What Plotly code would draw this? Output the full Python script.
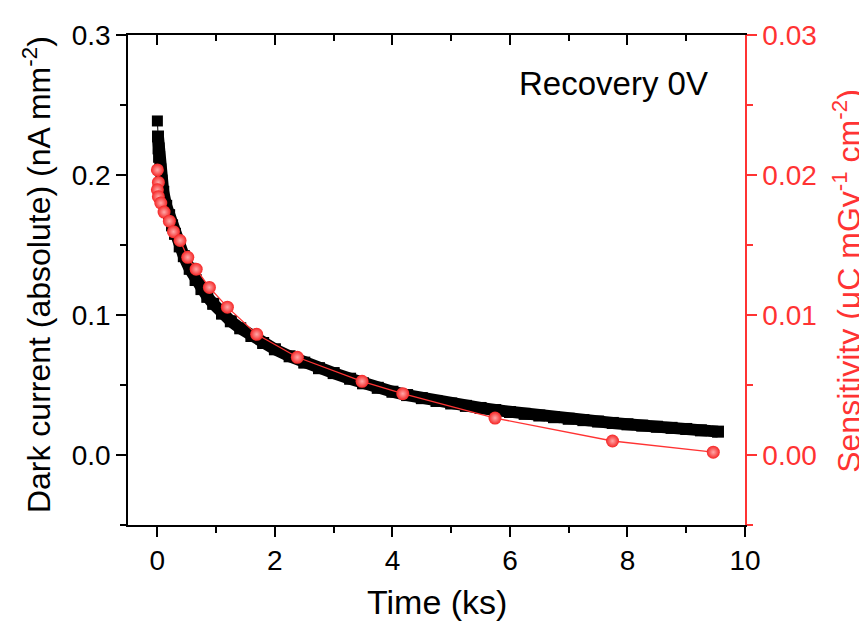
import plotly.graph_objects as go

# ---- data ----
t_dark = [0.0, 0.01, 0.02, 0.03, 0.05, 0.07, 0.10, 0.15, 0.20, 0.25, 0.30, 0.38, 0.45, 0.55,
          0.65, 0.75, 0.85, 0.95, 1.10, 1.25, 1.41, 1.60, 1.80, 2.00, 2.25, 2.50, 2.75, 3.00,
          3.28, 3.50, 3.75, 4.00, 4.25, 4.50, 4.75, 5.00, 5.25, 5.50, 5.75, 6.00, 6.25, 6.50,
          6.75, 7.00, 7.25, 7.50, 7.75, 8.00, 8.25, 8.50, 8.75, 9.00, 9.25, 9.54]
dark_current = [0.2386, 0.2275, 0.2190, 0.2130, 0.2040, 0.1960, 0.1880, 0.1780, 0.1713, 0.1640,
                0.1580, 0.1490, 0.1420, 0.1330, 0.1250, 0.1185, 0.1130, 0.1080, 0.1010, 0.0955,
                0.0905, 0.0850, 0.0800, 0.0755, 0.0705, 0.0660, 0.0620, 0.0585, 0.0545, 0.0512,
                0.0480, 0.0452, 0.0428, 0.0406, 0.0386, 0.0368, 0.0351, 0.0336, 0.0321, 0.0307,
                0.0294, 0.0282, 0.0270, 0.0259, 0.0249, 0.0239, 0.0229, 0.0219, 0.0210, 0.0202,
                0.0194, 0.0186, 0.0176, 0.0167]

t_sens = [0.0, 0.017, 0.0, 0.017, 0.058, 0.114, 0.204, 0.274, 0.386, 0.517, 0.660, 0.885,
          1.191, 1.690, 2.382, 3.483, 4.176, 5.746, 7.745, 9.46]
sensitivity = [0.02036, 0.01947, 0.01894, 0.01845, 0.01800, 0.01735, 0.01670, 0.01595, 0.01532,
               0.01412, 0.01327, 0.01197, 0.01056, 0.00862, 0.00698, 0.00526, 0.00438, 0.00264,
               0.00100, 0.00020]

x_ticks = [0, 2, 4, 6, 8, 10]
y_ticks = [0.0, 0.1, 0.2, 0.3]
y2_ticks = [0.00, 0.01, 0.02, 0.03]

RED = "#ff3333"
FONT = "Arial, Liberation Sans, sans-serif"

fig = go.Figure()

# thick band of dense square markers (dark current)
fig.add_trace(go.Scatter(
    x=t_dark[1:], y=dark_current[1:], mode="lines+markers",
    line=dict(color="black", width=12),
    marker=dict(symbol="square", size=12, color="black"),
    hoverinfo="skip", showlegend=False))
fig.add_trace(go.Scatter(
    x=t_dark, y=dark_current, mode="lines+markers",
    line=dict(color="black", width=1),
    marker=dict(symbol="square", size=11, color="black"),
    showlegend=False))

# sensitivity (right axis)
fig.add_trace(go.Scatter(
    x=t_sens, y=sensitivity, mode="lines+markers", yaxis="y2",
    line=dict(color=RED, width=1.3),
    marker=dict(symbol="circle", size=13, color="#f52525",
                gradient=dict(type="radial", color="#ffa8a8"),
                line=dict(width=0)),
    showlegend=False))

# top mirror axis carrier
fig.add_trace(go.Scatter(x=[None], y=[None], xaxis="x2", yaxis="y",
                         showlegend=False, hoverinfo="skip"))

tickfont = dict(family=FONT, size=28, color="black")

fig.update_layout(
    width=859, height=616,
    margin=dict(l=120, r=122, t=19, b=99),
    paper_bgcolor="white", plot_bgcolor="white",
    font=dict(family=FONT, color="black"),
    showlegend=False,
    xaxis=dict(range=[-0.5, 10], tickvals=x_ticks, ticks="outside", ticklen=10,
               tickwidth=1.5, tickcolor="black",
               minor=dict(dtick=1, tick0=0, ticks="outside", ticklen=6, tickwidth=1.5,
                          tickcolor="black"),
               showline=True, linecolor="black", linewidth=1.5,
               showgrid=False, zeroline=False, tickfont=tickfont, anchor="y"),
    xaxis2=dict(range=[-0.5, 10], overlaying="x", side="top", anchor="y",
                tickvals=x_ticks, ticks="inside", ticklen=10, tickwidth=1.5,
                tickcolor="black",
                minor=dict(dtick=1, tick0=0, ticks="inside", ticklen=6, tickwidth=1.5,
                           tickcolor="black"),
                showticklabels=False, showline=True, linecolor="black", linewidth=1.5,
                showgrid=False, zeroline=False),
    yaxis=dict(range=[-0.05, 0.3], tickvals=y_ticks, tickformat=".1f",
               ticks="outside", ticklen=10, tickwidth=1.5, tickcolor="black",
               minor=dict(dtick=0.05, tick0=0, ticks="outside", ticklen=6, tickwidth=1.5,
                          tickcolor="black"),
               showline=True, linecolor="black", linewidth=1.5,
               showgrid=False, zeroline=False, tickfont=tickfont),
    yaxis2=dict(range=[-0.005, 0.03], tickvals=y2_ticks, tickformat=".2f",
                overlaying="y", side="right", anchor="x",
                ticks="outside", ticklen=10, tickwidth=1.5, tickcolor=RED,
                minor=dict(dtick=0.005, tick0=0, ticks="outside", ticklen=6, tickwidth=1.5,
                           tickcolor=RED),
                showline=True, linecolor=RED, linewidth=1.5,
                showgrid=False, zeroline=False,
                tickfont=dict(family=FONT, size=28, color=RED)),
    annotations=[
        dict(text="Recovery 0V", x=7.77, y=0.2655, xref="x", yref="y",
             showarrow=False, font=dict(family=FONT, size=33, color="black"),
             xanchor="center", yanchor="middle"),
        dict(text="Time (ks)", x=0.5008, y=-0.157, xref="paper", yref="paper",
             showarrow=False, font=dict(family=FONT, size=34, color="black"),
             xanchor="center", yanchor="middle"),
        dict(text="Dark current (absolute) (nA mm<sup>-2</sup>)", x=-0.1475, y=0.512,
             xref="paper", yref="paper", textangle=-90, showarrow=False,
             font=dict(family=FONT, size=32, color="black"),
             xanchor="center", yanchor="middle"),
        dict(text="Sensitivity (\u03bcC mGy<sup>-1</sup> cm<sup>-2</sup>)", x=1.165, y=0.498,
             xref="paper", yref="paper", textangle=-90, showarrow=False,
             font=dict(family=FONT, size=32, color=RED),
             xanchor="center", yanchor="middle"),
    ],
)

fig.write_html("out.html")
